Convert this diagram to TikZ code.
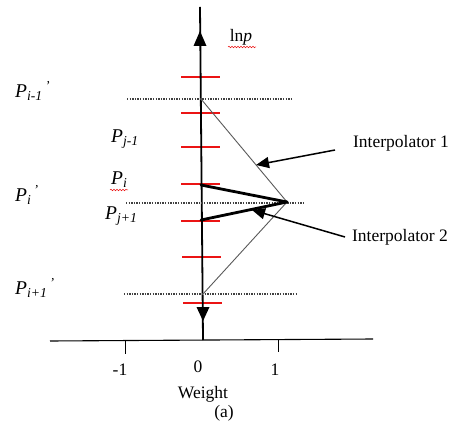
\documentclass[tikz,border=0pt]{standalone}
\usepackage{fontspec}
\setmainfont{Liberation Serif}
\usetikzlibrary{arrows.meta,decorations.pathmorphing}
\newcommand{\Plab}[2]{\textit{P}\textsubscript{\textit{#1}}#2}
\definecolor{tickred}{RGB}{235,20,20}
\begin{document}
\begin{tikzpicture}[x=1pt,y=-1pt,
  lbl/.style={font=\fontsize{17.5}{20}\selectfont, inner sep=0pt},
  plbl/.style={font=\fontsize{19.5}{22}\selectfont, inner sep=0pt, anchor=west},
  redtick/.style={draw=tickred, line width=1.4pt},
  dotline/.style={line width=1.4pt, dash pattern=on 1.3pt off 1.3pt, black!75},
  thinl/.style={black!65, line width=0.9pt},
  thickl/.style={black, line width=2.8pt, line cap=round},
  ptr/.style={line width=1.5pt, -{Triangle[length=13pt,width=11pt]}},
  squig/.style={draw=tickred, decorate, decoration={snake, amplitude=0.8pt, segment length=3pt}, line width=0.5pt}]
\useasboundingbox (0,0) rectangle (454,427);

% red ticks (drawn first, axis over them)
\draw[redtick] (181,77) -- (220,77);
\draw[redtick] (181,113) -- (220,113);
\draw[redtick] (181,147) -- (220,147);
\draw[redtick] (181,184) -- (220,184);
\draw[redtick] (181,221) -- (220,221);
\draw[redtick] (182,257) -- (221,257);
\draw[redtick] (183,303) -- (222,303);

% vertical axis
\coordinate (top) at (200,7);
\coordinate (bot) at (203,340);
\draw[line width=1.8pt] (bot) -- (top);
\fill (200,31) -- (206.5,46) -- (193.5,46) -- cycle;
\fill (203,321) -- (209.5,307) -- (196.5,307) -- cycle;

% horizontal axis
\coordinate (hl) at (50,341);
\coordinate (hr) at (373,339);
\draw[line width=1.1pt] (hl) -- (hr);
\draw[line width=1pt] (125,341) -- (125,354);
\draw[line width=1pt] (278,339) -- (278,352);

% dotted lines
\draw[dotline] (127,99) -- (291,99);
\draw[dotline] (126,203) -- (303,203);
\draw[dotline] (124,294) -- (297,294);

% interpolators
\coordinate (peak) at (287,202);
\coordinate (t1) at (201,99);
\coordinate (b1) at (203,294);
\coordinate (t2) at (201,185);
\coordinate (b2) at (201,220);
\draw[thinl] (t1) -- (peak) -- (b1);
\draw[thickl] (t2) -- (peak);
\draw[thickl] (b2) -- (peak);

% labels
\node[lbl] (lnp) at (241,37) {ln\textit{p}};
\draw[squig] (228,47) -- (256,47);
\node[plbl] (pim1) at (15,91) {\Plab{i-1}{\textsuperscript{\,\textit{'}}}};
\node[plbl] (pjm1) at (111,139) {\Plab{j-1}{}};
\node[plbl] (pj) at (111,180) {\Plab{i}{}};
\draw[squig] (110,190) -- (128,190);
\node[plbl] (pi) at (15,195) {\Plab{i}{\textsuperscript{\,\textit{'}}}};
\node[plbl] (pjp1) at (105,216) {\Plab{j+1}{}};
\node[plbl] (pip1) at (15,288) {\Plab{i+1}{\textsuperscript{\,\textit{'}}}};

\node[lbl] (int1) at (401,143) {Interpolator 1};
\node[lbl] (int2) at (400,237) {Interpolator 2};
\coordinate (a1s) at (335,150);
\coordinate (a1e) at (256,165);
\coordinate (a2s) at (345,237);
\coordinate (a2e) at (252,210);
\draw[ptr] (a1s) -- (a1e);
\draw[ptr] (a2s) -- (a2e);

\node[lbl] (xm1) at (120,370) {-1};
\node[lbl] (x0) at (198,367) {0};
\node[lbl] (x1) at (275,370) {1};
\node[lbl] (wt) at (203,394) {Weight};
\node[lbl] (cap) at (224,413) {(a)};
\end{tikzpicture}
\end{document}
